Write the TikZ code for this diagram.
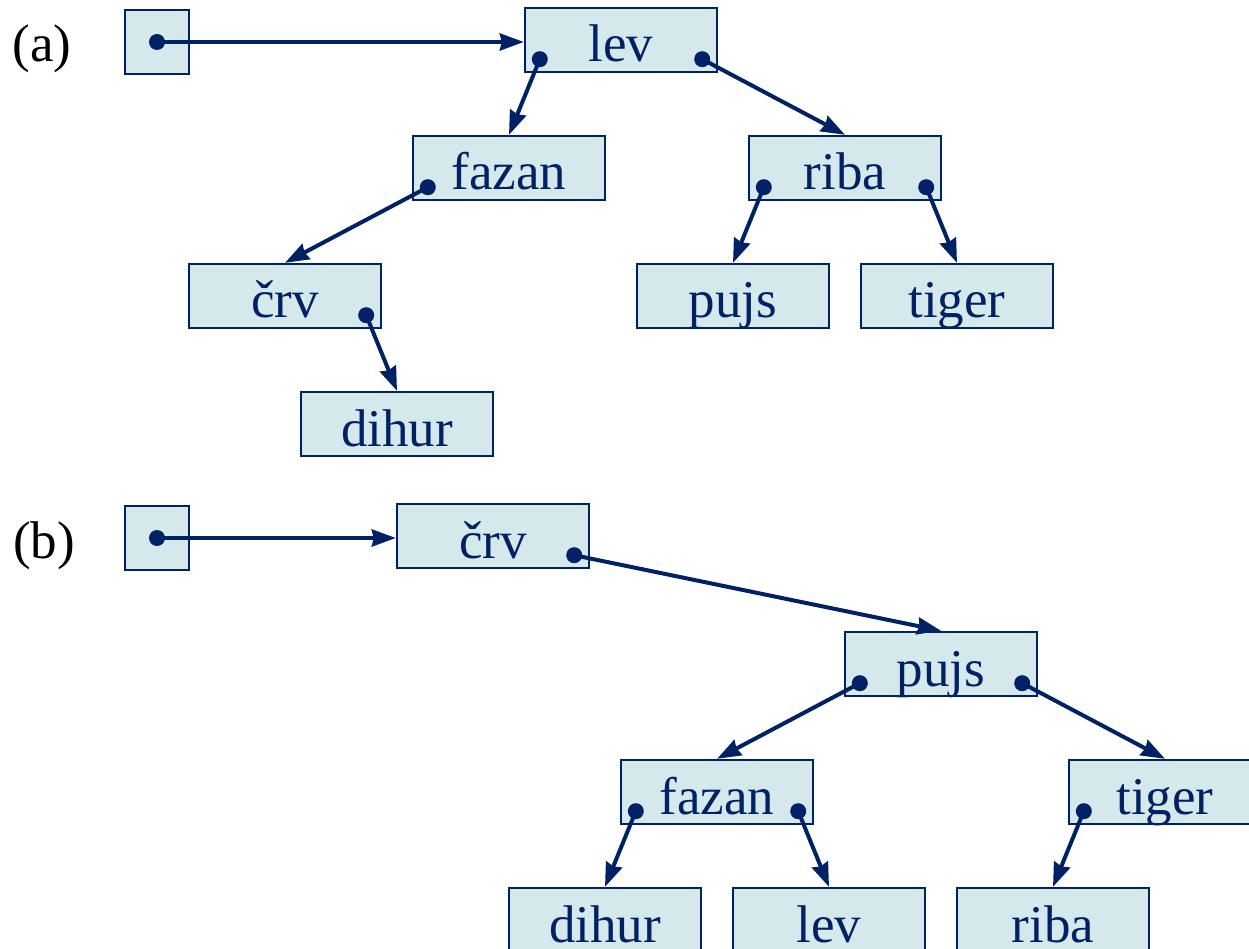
\documentclass[tikz,border=0pt]{standalone}
\usepackage{fontspec}
\setmainfont{Liberation Serif}
\usetikzlibrary{calc,arrows.meta}
\definecolor{navy}{RGB}{0,33,99}
\definecolor{cellfill}{RGB}{213,232,235}
\tikzset{
  cell/.style={draw=navy, fill=cellfill, line width=2.4pt, inner sep=0pt,
    minimum width=192pt, minimum height=64pt, text height=54pt, text depth=10pt,
    text=navy, font=\fontsize{53}{60}\selectfont},
  rootcell/.style={draw=navy, fill=cellfill, line width=2.4pt, inner sep=0pt,
    minimum width=64pt, minimum height=64pt},
  ptr/.style={draw=navy, line width=4pt,
    -{Stealth[length=24pt,width=17pt,inset=2pt]}},
  dot/.style={fill=navy},
  tag/.style={font=\fontsize{53}{60}\selectfont, anchor=base}
}
% pointer dot sitting in the lower-left / lower-right corner of a cell
\newcommand{\ldot}[1]{($(#1.south west)+(16,-14)$)}
\newcommand{\rdot}[1]{($(#1.south east)+(-16,-14)$)}
\begin{document}
\begin{tikzpicture}[x=1pt,y=-1pt]
\useasboundingbox (0,0) rectangle (1249,949);
\clip (0,0) rectangle (1249,949);

% ---------- tree (a) ----------
\node[tag] (ta) at (42,62) {(a)};
\node[rootcell] (ra) at (157,42) {};
\node[cell] (a-lev)   at (621,40)  {lev};
\node[cell] (a-fazan) at (509,168) {fazan};
\node[cell] (a-riba)  at (845,168) {riba};
\node[cell] (a-crv)   at (285,296) {črv};
\node[cell] (a-pujs)  at (733,296) {pujs};
\node[cell] (a-tiger) at (957,296) {tiger};
\node[cell] (a-dihur) at (397,424) {dihur};

\fill[dot] (ra.center) circle (8pt);
\draw[ptr] (ra.center) -- (a-lev.west |- ra.center);
\foreach \n in {a-lev,a-riba}{
  \fill[dot] \ldot{\n} circle (8pt);
  \fill[dot] \rdot{\n} circle (8pt);
}
\fill[dot] \ldot{a-fazan} circle (8pt);
\fill[dot] \rdot{a-crv} circle (8pt);
\draw[ptr] \ldot{a-lev} -- (a-fazan.north);
\draw[ptr] \rdot{a-lev} -- (a-riba.north);
\draw[ptr] \ldot{a-fazan} -- (a-crv.north);
\draw[ptr] \ldot{a-riba} -- (a-pujs.north);
\draw[ptr] \rdot{a-riba} -- (a-tiger.north);
\draw[ptr] \rdot{a-crv} -- (a-dihur.north);

% ---------- tree (b) ----------
\node[tag] (tb) at (44,558) {(b)};
\node[rootcell] (rb) at (157,538) {};
\node[cell] (b-crv)   at (493,536)  {črv};
\node[cell] (b-pujs)  at (941,664)  {pujs};
\node[cell] (b-fazan) at (717,792)  {fazan};
\node[cell] (b-tiger) at (1165,792) {tiger};
\node[cell] (b-dihur) at (605,920)  {dihur};
\node[cell] (b-lev)   at (829,920)  {lev};
\node[cell] (b-riba)  at (1053,920) {riba};

\fill[dot] (rb.center) circle (8pt);
\draw[ptr] (rb.center) -- (b-crv.west |- rb.center);
\fill[dot] \rdot{b-crv} circle (8pt);
\foreach \n in {b-pujs,b-fazan}{
  \fill[dot] \ldot{\n} circle (8pt);
  \fill[dot] \rdot{\n} circle (8pt);
}
\fill[dot] \ldot{b-tiger} circle (8pt);
\draw[ptr] \rdot{b-crv} -- (b-pujs.north);
\draw[ptr] \ldot{b-pujs} -- (b-fazan.north);
\draw[ptr] \rdot{b-pujs} -- (b-tiger.north);
\draw[ptr] \ldot{b-fazan} -- (b-dihur.north);
\draw[ptr] \rdot{b-fazan} -- (b-lev.north);
\draw[ptr] \ldot{b-tiger} -- (b-riba.north);
\end{tikzpicture}
\end{document}
